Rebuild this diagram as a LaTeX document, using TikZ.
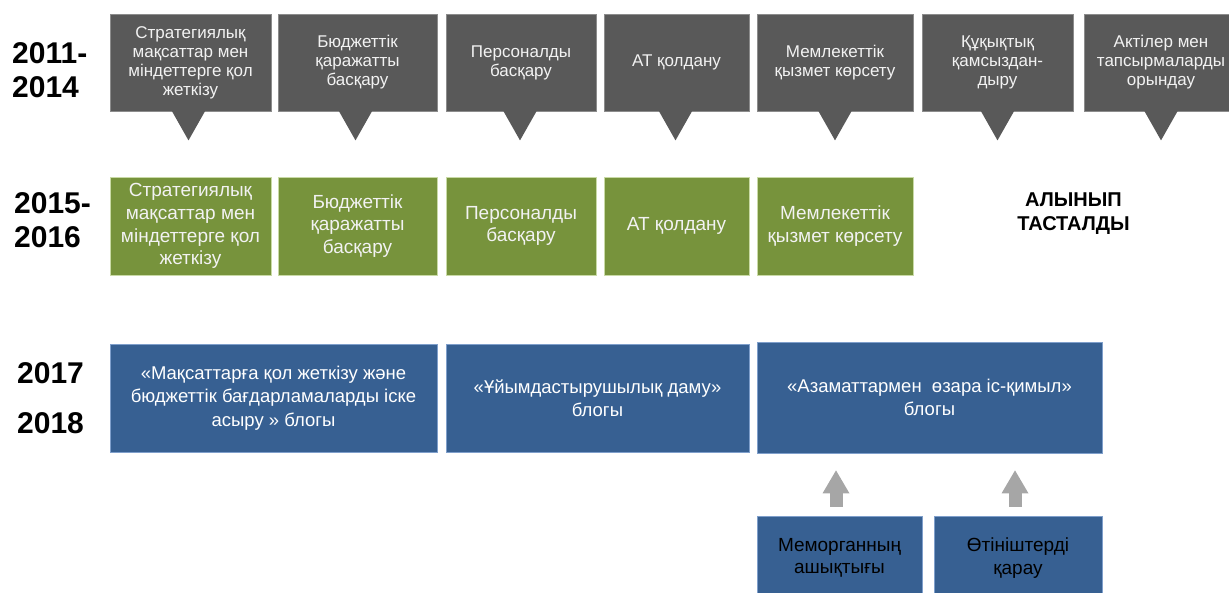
\documentclass[tikz,border=0pt]{standalone}
\usepackage{fontspec}
\setmainfont{Liberation Sans}
\usetikzlibrary{arrows.meta}
\definecolor{grayfill}{HTML}{595959}
\definecolor{grayline}{HTML}{8C8C8C}
\definecolor{greenfill}{HTML}{77933C}
\definecolor{greenline}{HTML}{C9DAA6}
\definecolor{bluefill}{HTML}{376092}
\definecolor{blueline}{HTML}{7F9FCB}
\definecolor{arrowgray}{HTML}{A6A6A6}
\definecolor{lighttext}{HTML}{F2F2F2}
\tikzset{
  graybox/.style={fill=grayfill, draw=grayline, line width=0.8pt, text=lighttext,
    font=\fontsize{17}{19}\selectfont, align=center, minimum height=97pt, inner sep=0pt},
  pointer/.style={fill=grayfill},
  greenbox/.style={fill=greenfill, draw=greenline, line width=0.8pt, text=lighttext,
    font=\fontsize{19}{22.8}\selectfont, align=center, minimum height=98pt, inner sep=0pt},
  bluebox/.style={fill=bluefill, draw=blueline, line width=0.8pt, text=white,
    font=\fontsize{18.5}{23.5}\selectfont, align=center, inner sep=0pt},
  subbox/.style={fill=bluefill, draw=blueline, line width=0.8pt, text=black,
    font=\fontsize{19}{22.5}\selectfont, align=center, inner sep=0pt,
    minimum height=84pt},
  year/.style={font=\bfseries\fontsize{30}{34}\selectfont, anchor=base west, inner sep=0pt},
  removed/.style={font=\bfseries\fontsize{20}{24}\selectfont, anchor=base, inner sep=0pt},
  blockarrow/.style={draw=arrowgray, line width=13pt,
    -{Triangle[width=27pt,length=23pt,line width=0pt]}}
}
\begin{document}
\begin{tikzpicture}[x=1pt,y=-1pt]
\useasboundingbox (0,0) rectangle (1229,592);

% year labels
\node[year] (y11) at (12,63) {2011-};
\node[year] (y14) at (12,97) {2014};
\node[year] (y15) at (14,213) {2015-};
\node[year] (y16) at (14,247) {2016};
\node[year] (y17) at (17,383) {2017};
\node[year] (y18) at (17,433) {2018};

% top row (2011-2014)
\node[graybox, minimum width=161pt] (g1) at (190.5,62.5) {Стратегиялық\\мақсаттар мен\\міндеттерге қол\\жеткізу};
\node[graybox, minimum width=159pt] (g2) at (357.5,62.5) {Бюджеттік\\қаражатты\\басқару};
\node[graybox, minimum width=150pt] (g3) at (521,62.5) {Персоналды\\басқару};
\node[graybox, minimum width=145pt] (g4) at (676.5,62.5) {АТ қолдану};
\node[graybox, minimum width=156pt] (g5) at (835,62.5) {Мемлекеттік\\қызмет көрсету};
\node[graybox, minimum width=151pt] (g6) at (997.5,62.5) {Құқықтық\\қамсыздан-\\дыру};
\node[graybox, minimum width=154pt] (g7) at (1161,62.5) {Актілер мен\\тапсырмаларды\\орындау};
\foreach \g/\dx in {g1/-2,g2/-2,g3/-1,g4/-1,g5/0,g6/0,g7/0}{
  \fill[pointer] ([xshift=\dx pt-17pt, yshift=1pt]\g.south) -- ([xshift=\dx pt+17pt, yshift=1pt]\g.south)
     -- ([xshift=\dx pt, yshift=-29pt]\g.south) -- cycle;
}

% middle row (2015-2016)
\node[greenbox, minimum width=161pt] (n1) at (190.5,226) {Стратегиялық\\мақсаттар мен\\міндеттерге қол\\жеткізу};
\node[greenbox, minimum width=159pt] (n2) at (357.5,226) {Бюджеттік\\қаражатты\\басқару};
\node[greenbox, minimum width=150pt] (n3) at (521,226) {Персоналды\\басқару};
\node[greenbox, minimum width=145pt] (n4) at (676.5,226) {АТ қолдану};
\node[greenbox, minimum width=156pt] (n5) at (835,226) {Мемлекеттік\\қызмет көрсету};
\node[removed] (r1) at (1073.5,206) {АЛЫНЫП};
\node[removed] (r2) at (1073.5,230) {ТАСТАЛДЫ};

% bottom row (2017-2018)
\node[bluebox, minimum width=327pt, minimum height=108pt] (b1) at (273.5,398)
  {«Мақсаттарға қол жеткізу және\\бюджеттік бағдарламаларды іске\\асыру » блогы};
\node[bluebox, minimum width=303pt, minimum height=108pt] (b2) at (597.5,398)
  {«Ұйымдастырушылық даму»\\блогы};
\node[bluebox, minimum width=345pt, minimum height=111pt] (b3) at (929.5,397.5)
  {«Азаматтармен\ \ өзара іс-қимыл»\\блогы};

\node[subbox, minimum width=165pt] (s1) at (839.5,558) {Меморганның\\ашықтығы};
\node[subbox, minimum width=168pt] (s2) at (1018,558) {Өтініштерді\\қарау};

\draw[blockarrow, shorten <=9pt, shorten >=17pt] ([xshift=-3.5pt]s1.north) -- ([xshift=-3.5pt]s1.north |- b3.south);
\draw[blockarrow, shorten <=9pt, shorten >=17pt] ([xshift=-3pt]s2.north) -- ([xshift=-3pt]s2.north |- b3.south);
\end{tikzpicture}
\end{document}
